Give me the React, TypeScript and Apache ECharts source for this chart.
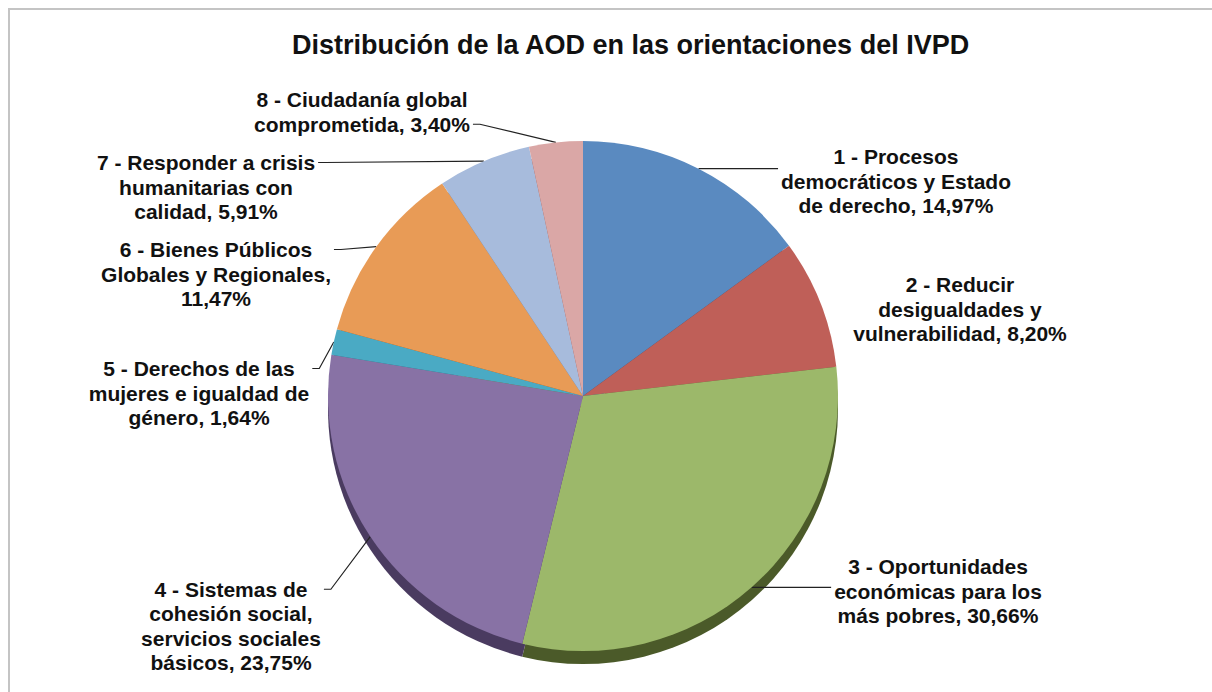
import { useEffect, useRef } from "react";
import * as echarts from "echarts";

const titleText = "Distribución de la AOD en las orientaciones del IVPD";

const categories = [
  "1 - Procesos\ndemocráticos y Estado\nde derecho",
  "2 - Reducir\ndesigualdades y\nvulnerabilidad",
  "3 - Oportunidades\neconómicas para los\nmás pobres",
  "4 - Sistemas de\ncohesión social,\nservicios sociales\nbásicos",
  "5 - Derechos de las\nmujeres e igualdad de\ngénero",
  "6 - Bienes Públicos\nGlobales y Regionales",
  "7 - Responder a crisis\nhumanitarias con\ncalidad",
  "8 - Ciudadanía global\ncomprometida",
];

const shares = [14.97, 8.2, 30.66, 23.75, 1.64, 11.47, 5.91, 3.4];

const valueSeparators = [", ", ", ", ", ", ", ", ", ", ",\n", ", ", ", "];

const topColors = ["#5a8ac0", "#bf5f58", "#9cb86a", "#8872a5", "#4aaac4", "#e89b56", "#a7bbdc", "#daa7a6"];
const sideColors = ["#2f4f75", "#74332f", "#4b5a29", "#4a3b60", "#2a6878", "#8f5623", "#5f7295", "#8a5757"];

const labelCenters = [
  [896, 181],
  [960, 309],
  [938, 591],
  [231, 626],
  [199, 393],
  [216, 274],
  [206, 187],
  [362, 112],
];

const showLeader = [true, false, true, true, true, true, true, true];

const LINE_H = 24.5;

const fmt = (v: number) => v.toFixed(2).replace(".", ",") + "%";

export default function App() {
  const ref = useRef<HTMLDivElement>(null);
  useEffect(() => {
    document.body.style.margin = "0";
    const chart = echarts.init(ref.current!, undefined, { renderer: "svg" });
    const font = "'Liberation Sans', Arial, sans-serif";
    chart.setOption({
      animation: false,
      backgroundColor: "#ffffff",
      title: {
        text: titleText,
        left: 292,
        top: 31,
        padding: 0,
        textStyle: { fontFamily: font, fontWeight: "bold", fontSize: 27, color: "#111" },
      },
      graphic: [
        {
          type: "rect",
          shape: { x: 9, y: 9, width: 1400, height: 900 },
          style: { fill: "none", stroke: "#c4c4c4", lineWidth: 2 },
          silent: true,
          z: 0,
        },
      ],
      series: [
        {
          type: "pie",
          z: 1,
          silent: true,
          center: [583, 409],
          radius: 255,
          startAngle: 90,
          clockwise: true,
          label: { show: false },
          labelLine: { show: false },
          emphasis: { disabled: true },
          itemStyle: { borderWidth: 0 },
          data: categories.map((name, i) => ({
            name,
            value: shares[i],
            itemStyle: { color: sideColors[i] },
          })),
        },
        {
          type: "pie",
          z: 2,
          silent: true,
          center: [583, 396],
          radius: 255,
          startAngle: 90,
          clockwise: true,
          avoidLabelOverlap: false,
          emphasis: { disabled: true },
          itemStyle: { borderWidth: 0 },
          label: {
            show: true,
            position: "outside",
            fontFamily: font,
            fontWeight: "bold",
            fontSize: 21,
            lineHeight: LINE_H,
            color: "#111",
            align: "center",
            formatter: (p: any) => p.name + valueSeparators[p.dataIndex] + fmt(p.value),
          },
          labelLine: {
            show: true,
            length: 10,
            length2: 6,
            smooth: false,
            lineStyle: { color: "#222", width: 1.2 },
          },
          labelLayout: (params: any) => {
            const i = params.dataIndex;
            const [lx, ly] = labelCenters[i];
            const res: any = { x: lx, y: ly, align: "center", verticalAlign: "middle" };
            const pts = params.labelLinePoints;
            if (pts && showLeader[i]) {
              const w = params.labelRect.width;
              const h = params.labelRect.height;
              const p0 = pts[0];
              const onRight = lx > p0[0];
              const edgeX = onRight ? lx - w / 2 - 3 : lx + w / 2 + 3;
              const topY = ly - h / 2 + LINE_H / 2;
              const botY = ly + h / 2 - LINE_H / 2;
              const ey = Math.min(botY, Math.max(topY, p0[1]));
              const mx = onRight ? edgeX - 7 : edgeX + 7;
              res.labelLinePoints = [
                [p0[0], p0[1]],
                [mx, ey],
                [edgeX, ey],
              ];
            }
            return res;
          },
          data: categories.map((name, i) => ({
            name,
            value: shares[i],
            itemStyle: { color: topColors[i] },
            labelLine: { show: showLeader[i] },
          })),
        },
      ],
    });
    return () => chart.dispose();
  }, []);
  return <div ref={ref} style={{ width: 1212, height: 692 }} />;
}
